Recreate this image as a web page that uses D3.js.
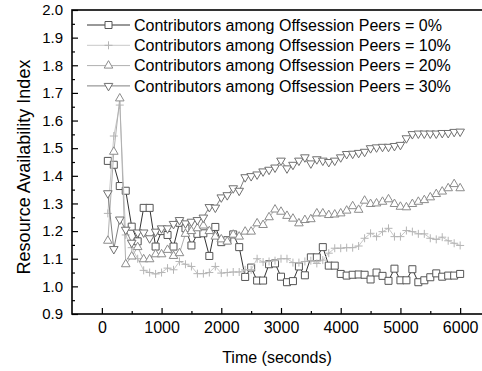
<!DOCTYPE html>
<html>
<head>
<meta charset="utf-8">
<script src="https://cdn.jsdelivr.net/npm/d3@7"></script>
<style>
  body { margin: 0; background: #fff; }
  svg { display: block; font-family: "Liberation Sans", Arial, sans-serif; }
</style>
</head>
<body>
<svg id="chart"></svg>
<script>
// time axis (seconds), one sample every 100 s
const times = d3.range(100, 6001, 100);

const seriesNames = [
  "Contributors among Offsession Peers = 0%",
  "Contributors among Offsession Peers = 10%",
  "Contributors among Offsession Peers = 20%",
  "Contributors among Offsession Peers = 30%"
];

const pct0 = [1.454, 1.44, 1.363, 1.346, 1.216, 1.163, 1.284, 1.284, 1.144, 1.20,
  1.186, 1.144, 1.23, 1.21, 1.148, 1.19, 1.192, 1.11, 1.215, 1.16,
  1.167, 1.188, 1.142, 1.034, 1.068, 1.021, 1.021, 1.08, 1.083, 1.035,
  1.015, 1.019, 1.072, 1.04, 1.105, 1.105, 1.142, 1.075, 1.075, 1.045,
  1.039, 1.042, 1.043, 1.042, 1.025, 1.05, 1.038, 1.02, 1.064, 1.022,
  1.022, 1.062, 1.015, 1.022, 1.033, 1.047, 1.035, 1.039, 1.039, 1.045];

const pct10 = [1.264, 1.544, 1.656, 1.186, 1.14, 1.10, 1.058, 1.05, 1.045, 1.05,
  1.066, 1.06, 1.09, 1.08, 1.072, 1.046, 1.046, 1.05, 1.072, 1.048,
  1.05, 1.052, 1.052, 1.06, 1.06, 1.10, 1.088, 1.09, 1.093, 1.10,
  1.10, 1.086, 1.086, 1.09, 1.093, 1.083, 1.095, 1.12, 1.138, 1.138,
  1.14, 1.14, 1.146, 1.174, 1.192, 1.18, 1.198, 1.21, 1.18, 1.18,
  1.202, 1.198, 1.19, 1.19, 1.174, 1.17, 1.178, 1.165, 1.156, 1.148];

const pct20 = [1.165, 1.487, 1.68, 1.08, 1.108, 1.142, 1.098, 1.098, 1.116, 1.116,
  1.132, 1.11, 1.12, 1.19, 1.20, 1.21, 1.22, 1.20, 1.18, 1.17,
  1.162, 1.187, 1.18, 1.198, 1.198, 1.228, 1.222, 1.25, 1.278, 1.27,
  1.255, 1.245, 1.228, 1.24, 1.243, 1.264, 1.264, 1.258, 1.26, 1.264,
  1.274, 1.29, 1.277, 1.31, 1.298, 1.30, 1.306, 1.315, 1.298, 1.288,
  1.286, 1.298, 1.306, 1.312, 1.322, 1.334, 1.343, 1.355, 1.37, 1.355];

const pct30 = [1.337, 1.135, 1.242, 1.205, 1.158, 1.195, 1.195, 1.174, 1.198, 1.21,
  1.21, 1.226, 1.24, 1.228, 1.234, 1.24, 1.249, 1.287, 1.285, 1.322,
  1.33, 1.355, 1.346, 1.395, 1.399, 1.405, 1.416, 1.422, 1.43, 1.455,
  1.427, 1.44, 1.455, 1.467, 1.445, 1.46, 1.455, 1.45, 1.455, 1.467,
  1.479, 1.48, 1.483, 1.487, 1.50, 1.503, 1.505, 1.505, 1.508, 1.512,
  1.536, 1.551, 1.553, 1.553, 1.553, 1.553, 1.555, 1.555, 1.559, 1.56];

const yTicks = d3.range(9, 21).map(d => d / 10);
const xTicks = [0, 1000, 2000, 3000, 4000, 5000, 6000];

class LineChart {
  constructor(_config, _data) {
    this.config = {
      parentElement: _config.parentElement,
      containerWidth: _config.containerWidth || 482,
      containerHeight: _config.containerHeight || 371,
      margin: { top: 10, bottom: 57, right: -8, left: 72 }
    };
    this.data = _data;
    this.initVis();
  }

  initVis() {
    let vis = this;
    vis.width = vis.config.containerWidth - vis.config.margin.left - vis.config.margin.right;
    vis.height = vis.config.containerHeight - vis.config.margin.top - vis.config.margin.bottom;

    vis.svg = d3.select(vis.config.parentElement)
      .attr('width', vis.config.containerWidth)
      .attr('height', vis.config.containerHeight);

    vis.chart = vis.svg.append('g')
      .attr('transform', `translate(${vis.config.margin.left},${vis.config.margin.top})`);

    vis.xScale = d3.scaleLinear().domain([-500, 6500]).range([0, vis.width]);
    vis.yScale = d3.scaleLinear().domain([0.9, 2.0]).range([vis.height, 0]);

    // axis titles
    vis.svg.append('text')
      .attr('x', 277)
      .attr('y', 363)
      .attr('text-anchor', 'middle')
      .style('font-size', '16px')
      .text('Time (seconds)');

    vis.svg.append('text')
      .attr('transform', 'translate(30,167) rotate(-90)')
      .attr('text-anchor', 'middle')
      .style('font-size', '18px')
      .text('Resource Availability Index');

    vis.updateVis();
  }

  updateVis() {
    let vis = this;
    vis.xValue = d => d.t;
    vis.yValue = d => d.v;
    vis.line = d3.line()
      .x(d => vis.xScale(vis.xValue(d)))
      .y(d => vis.yScale(vis.yValue(d)));
    vis.renderVis();
  }

  renderVis() {
    let vis = this;

    // minor ticks
    vis.chart.append('g')
      .attr('class', 'axis minor')
      .attr('transform', `translate(0,${vis.height})`)
      .call(d3.axisBottom(vis.xScale).tickValues(d3.range(500, 6001, 1000)).tickSize(-3).tickFormat(''));
    vis.chart.append('g')
      .attr('class', 'axis minor')
      .call(d3.axisLeft(vis.yScale).tickValues(d3.range(9, 20).map(d => d / 10 + 0.05)).tickSize(-3).tickFormat(''));

    // major ticks
    vis.chart.append('g')
      .attr('class', 'axis x-axis')
      .attr('transform', `translate(0,${vis.height})`)
      .call(d3.axisBottom(vis.xScale).tickValues(xTicks).tickSize(-6).tickPadding(8).tickFormat(d3.format('d')));
    vis.chart.append('g')
      .attr('class', 'axis y-axis')
      .call(d3.axisLeft(vis.yScale).tickValues(yTicks).tickSize(-6).tickPadding(9).tickFormat(d3.format('.1f')));

    vis.chart.selectAll('.axis .domain').remove();
    vis.chart.selectAll('.axis line').attr('stroke', '#000').attr('stroke-width', 1.2);
    vis.chart.selectAll('.axis text')
      .attr('fill', '#000')
      .style('font-size', '16px')
      .style('font-family', '"Liberation Sans", Arial, sans-serif');
    vis.chart.selectAll('.y-axis text').style('font-size', '15px');

    // frame
    vis.chart.append('rect')
      .attr('width', vis.width)
      .attr('height', vis.height)
      .attr('fill', 'none')
      .attr('stroke', '#000')
      .attr('stroke-width', 1.6);

    // series
    const series = vis.chart.selectAll('.series')
      .data(vis.data)
      .join('g')
      .attr('class', 'series');

    series.append('path')
      .attr('d', s => vis.line(s.values))
      .attr('fill', 'none')
      .attr('stroke', s => s.line)
      .attr('stroke-width', 1);

    series.each(function(s) {
      d3.select(this).selectAll('.mark')
        .data(s.values)
        .join('path')
        .attr('class', 'mark')
        .attr('transform', d => `translate(${vis.xScale(vis.xValue(d))},${vis.yScale(vis.yValue(d))})${s.rot ? ' rotate(180)' : ''}`)
        .attr('d', s.symbol)
        .attr('fill', s.fill)
        .attr('stroke', s.color)
        .attr('stroke-width', 1);
    });

    // legend
    const legend = vis.chart.selectAll('.legend')
      .data(vis.data)
      .join('g')
      .attr('class', 'legend')
      .attr('transform', (s, i) => `translate(15,${15 + i * 20.3})`);

    legend.append('line')
      .attr('x1', 0).attr('x2', 43)
      .attr('stroke', s => s.line)
      .attr('stroke-width', 1);
    legend.append('path')
      .attr('transform', s => `translate(21.5,0)${s.rot ? ' rotate(180)' : ''}`)
      .attr('d', s => s.symbol)
      .attr('fill', s => s.fill)
      .attr('stroke', s => s.color);
    legend.append('text')
      .attr('x', 47)
      .attr('dy', '0.35em')
      .style('font-size', '16px')
      .text(s => s.name);
  }
}

const square = d3.symbol(d3.symbolSquare, 49)();
const tri = d3.symbol(d3.symbolTriangle, 32)();
const plus = 'M-4,0H4M0,-4V4';

const data = [
  { name: seriesNames[0], vals: pct0, symbol: square, color: '#555', line: '#333', fill: '#fff', rot: false },
  { name: seriesNames[1], vals: pct10, symbol: plus, color: '#b5b5b5', line: '#c8c8c8', fill: 'none', rot: false },
  { name: seriesNames[2], vals: pct20, symbol: tri, color: '#8c8c8c', line: '#b0b0b0', fill: '#fff', rot: false },
  { name: seriesNames[3], vals: pct30, symbol: tri, color: '#707070', line: '#808080', fill: '#fff', rot: true }
].map(s => ({ ...s, values: times.map((t, i) => ({ t: t, v: s.vals[i] })) }));

const chart = new LineChart({ parentElement: '#chart' }, data);
</script>
</body>
</html>
